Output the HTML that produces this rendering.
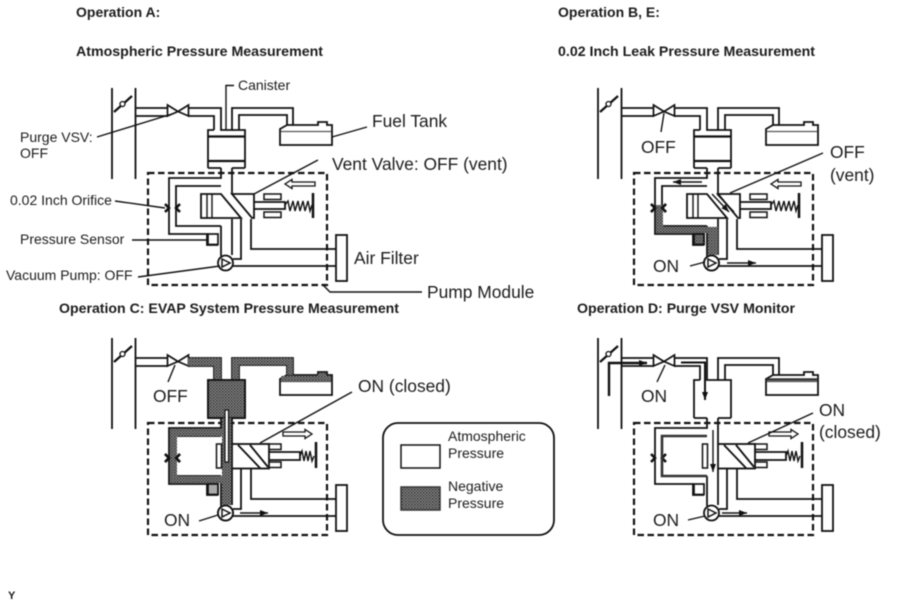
<!DOCTYPE html>
<html><head><meta charset="utf-8"><style>
html,body{margin:0;padding:0;background:#fff;width:909px;height:603px;overflow:hidden}
svg{display:block;filter:blur(.45px)}
text{font-family:"Liberation Sans",sans-serif;fill:#1c1c1c;stroke:none}
.h{font-weight:bold;font-size:14px}
.s{font-size:14px}
.l{font-size:17.4px}
.k{fill:none;stroke:#111;stroke-width:1.8}
.t{fill:none;stroke:#111;stroke-width:1.4}
</style></head><body>
<svg width="909" height="603" viewBox="0 0 909 603" xmlns="http://www.w3.org/2000/svg">
<defs>
<pattern id="n" width="3" height="3" patternUnits="userSpaceOnUse"><rect width="3" height="3" fill="#8a8a8a"/><rect width="1.5" height="1.5" fill="#333"/><rect x="1.5" y="1.5" width="1.5" height="1.5" fill="#444"/></pattern>
<marker id="a" markerWidth="9" markerHeight="8" refX="8" refY="4" orient="auto" markerUnits="userSpaceOnUse"><path d="M0,1 L8,4 L0,7Z" fill="#111"/></marker>
<g id="base">
<path class="k" d="M112,88V179M135.500,88V179"/>
<path d="M114,112L132,96" stroke="#111" stroke-width="2.200"/>
<circle cx="122.500" cy="104" r="2.500" fill="#fff" stroke="#111" stroke-width="1.300"/>
<path class="k" d="M135,108H168M135,116H168M188,108H221V130H232V108H293V125M188,116H214V130M239,130V115H287V125"/>
<path d="M280,145V129L287,125H318V122H327V125H332V145Z" fill="none" stroke="#111" stroke-width="1.800"/>
<path d="M281,131.500H331" stroke="#555" stroke-width="1.300"/>
<path d="M167.500,105L178,111.500L167.500,116Z M188.500,105L178,111.500L188.500,116Z" fill="#fff" stroke="#111" stroke-width="1.700"/>
<path class="k" d="M208,168V130H214M232,130H245V168M221,168H208M232,168H245"/>
<path d="M148,173H327V285H148Z" fill="none" stroke="#111" stroke-width="2.200" stroke-dasharray="6.500 3.500"/>
<rect x="336" y="235" width="11" height="46" fill="#fff" stroke="#111" stroke-width="1.800"/>
<path class="k" d="M251,219V249H336M233,266H336"/>
<path class="k" d="M221,168V178H169V234H207V245H218M221,186H176V226H221M232,168V194M232,219V255M241,219V259H233M221,226V256"/>
<rect x="208" y="234" width="10" height="10.500" fill="#fff" stroke="#111" stroke-width="1.700"/>
<path d="M165,204L169,208L165,212M180,204L176,208L180,212" fill="none" stroke="#111" stroke-width="2.600"/>
<circle cx="225.500" cy="263" r="7.500" fill="#fff" stroke="#111" stroke-width="1.800"/>
<path d="M222,259L230,263L222,267Z" fill="#fff" stroke="#111" stroke-width="1.500"/>
<rect x="264" y="194" width="17" height="5.500" fill="#fff" stroke="#111" stroke-width="1.500"/>
<rect x="264" y="212" width="17" height="5.500" fill="#fff" stroke="#111" stroke-width="1.500"/>
</g>
<g id="off">
<path d="M201,194H221L241,218H201Z" fill="#fff" stroke="#111" stroke-width="1.800"/>
<path class="t" d="M207,194V218M212,194V218"/>
<path d="M232,194H254V218H252Z" fill="#fff" stroke="#111" stroke-width="1.800"/>
<path class="k" d="M254,202H285V209H254"/>
<path class="t" d="M285,205L288,201L290,211L293,201L295,211L298,201L300,211L303,201L305,211L308,201L310,211L312,205"/>
<path d="M313,193V218" stroke="#111" stroke-width="2.500"/>
<path d="M315,182H292V179.500L285,184L292,188.500V186H315Z" fill="#fff" stroke="#111" stroke-width="1.300"/>
</g>
<g id="on">
<rect x="216.500" y="194" width="5" height="24" fill="#fff" stroke="#111" stroke-width="1.500"/>
<rect x="232" y="194" width="37" height="24.500" fill="#fff" stroke="#111" stroke-width="1.800"/>
<path class="k" d="M238,195L260,218M250,195L268,217"/>
<path class="k" d="M269,202H300V210H269"/>
<path class="t" d="M300,206L302,201L304,211L306,201L308,211L310,201L312,211L314,206"/>
<path d="M316,192V218" stroke="#111" stroke-width="2.500"/>
<path d="M283,182H305V179.500L312,184L305,188.500V186H283Z" fill="#fff" stroke="#111" stroke-width="1.300"/>
</g>
<g id="bar"><path d="M208,136.500H245M208,161H245" stroke="#111" stroke-width="2.200"/></g>
</defs>

<!-- A -->
<use href="#base"/><use href="#off"/><use href="#bar"/>
<path class="t" d="M226,130V85.500H234"/>
<path class="t" d="M97,137L172,114M115,201L165,208M132,240H208M138,277L220,266M254,194L318,160M332,137L367,127M323,285L330,292H422"/>

<!-- B -->
<g transform="translate(486,0)">
<use href="#base"/>
<path d="M170,205H177V226.900H232V255H222V233H170Z" fill="url(#n)"/>
<rect x="208" y="234" width="10" height="10.500" fill="url(#n)" stroke="#111" stroke-width="1.700"/>
<circle cx="225.500" cy="263" r="7.500" fill="#fff" stroke="#111" stroke-width="1.800"/>
<path d="M222,259L230,263L222,267Z" fill="#fff" stroke="#111" stroke-width="1.500"/>
<path d="M165,204L169,208L165,212M180,204L176,208L180,212" fill="none" stroke="#111" stroke-width="2.600"/>
<use href="#off"/><use href="#bar"/>
<path class="t" d="M216,182H187" marker-end="url(#a)"/>
<path class="t" d="M241,263H270" marker-end="url(#a)"/>
<path class="t" d="M226,194L243,212" marker-end="url(#a)"/>
<path class="t" d="M231,194L248,212"/>
<path class="t" d="M178,113L175,132M244,193L337,153M204,266L219,262"/>
</g>

<!-- C -->
<g transform="translate(0,250)">
<use href="#base"/>
<path d="M188,108H221V130H232V108H293V125H287V115H239V130H214V116H188Z" fill="url(#n)"/>
<path d="M281,131V126H318V123H326V126H331V131Z" fill="url(#n)"/>
<rect x="208" y="130" width="37" height="38" fill="url(#n)" stroke="#111" stroke-width="1.800"/>
<path d="M222,168H231V255H222Z" fill="url(#n)"/>
<path d="M170,179H222V186H177V226H222V233H170Z" fill="url(#n)"/>
<rect x="208" y="234" width="10" height="10.500" fill="#aaa" stroke="#111" stroke-width="1.700"/>
<path d="M225,160H228.500V212H225Z" fill="#fff" stroke="#111" stroke-width="1.200"/>
<circle cx="225.500" cy="263" r="7.500" fill="#fff" stroke="#111" stroke-width="1.800"/>
<path d="M222,259L230,263L222,267Z" fill="#fff" stroke="#111" stroke-width="1.500"/>
<path d="M165,204L169,208L165,212M180,204L176,208L180,212" fill="none" stroke="#111" stroke-width="2.600"/>
<use href="#on"/>
<path class="t" d="M240,263H268" marker-end="url(#a)"/>
<path class="t" d="M175,115L168,132M260,193L352,142M199,271L218,265"/>
</g>

<!-- D -->
<g transform="translate(486,250)">
<use href="#base"/><use href="#on"/>
<path d="M123,146V113H161" fill="none" stroke="#111" stroke-width="2.400" marker-end="url(#a)"/>
<path d="M195,112.500H219V150" fill="none" stroke="#111" stroke-width="2" marker-end="url(#a)"/>
<path d="M227,180V222" class="t" marker-end="url(#a)"/>
<path d="M221,186H176V226H221" fill="none" stroke="#333" stroke-width="2.600"/>
<path d="M281,129.500H331" stroke="#333" stroke-width="2.500"/>
<path class="t" d="M236,263H261" marker-end="url(#a)"/>
<path class="t" d="M179,115L171,132M262,193L327,163M202,270L219,266"/>
</g>

<!-- Legend -->
<rect x="383" y="423" width="171" height="112" rx="15" fill="#fff" stroke="#111" stroke-width="1.800"/>
<rect x="401" y="445" width="39" height="23" fill="#fff" stroke="#111" stroke-width="1.500"/>
<rect x="401" y="487" width="39" height="23" fill="url(#n)" stroke="#333" stroke-width="1.500"/>
<text class="s" x="448" y="441">Atmospheric</text>
<text class="s" x="448" y="458">Pressure</text>
<text class="s" x="448" y="491">Negative</text>
<text class="s" x="448" y="508">Pressure</text>

<!-- Headers -->
<text class="h" x="76" y="17">Operation A:</text>
<text class="h" x="76" y="56" textLength="247" lengthAdjust="spacingAndGlyphs">Atmospheric Pressure Measurement</text>
<text class="h" x="558" y="17">Operation B, E:</text>
<text class="h" x="558" y="56" textLength="257" lengthAdjust="spacingAndGlyphs">0.02 Inch Leak Pressure Measurement</text>
<text class="h" x="59" y="313" textLength="340" lengthAdjust="spacingAndGlyphs">Operation C: EVAP System Pressure Measurement</text>
<text class="h" x="577" y="313" textLength="218" lengthAdjust="spacingAndGlyphs">Operation D: Purge VSV Monitor</text>

<!-- A labels -->
<text class="s" x="238" y="90">Canister</text>
<text class="s" x="20" y="142">Purge VSV:</text>
<text class="s" x="20" y="158">OFF</text>
<text class="s" x="10" y="205">0.02 Inch Orifice</text>
<text class="s" x="20" y="244">Pressure Sensor</text>
<text class="s" x="6" y="280">Vacuum Pump: OFF</text>
<text class="l" x="372" y="127">Fuel Tank</text>
<text class="l" x="332" y="170">Vent Valve: OFF (vent)</text>
<text class="l" x="354" y="264">Air Filter</text>
<text class="l" x="427" y="298">Pump Module</text>

<!-- B labels -->
<text class="l" x="641" y="153">OFF</text>
<text class="l" x="830" y="158">OFF</text>
<text class="l" x="830" y="181">(vent)</text>
<text class="l" x="653" y="272">ON</text>

<!-- C labels -->
<text class="l" x="153" y="402">OFF</text>
<text class="l" x="358" y="392">ON (closed)</text>
<text class="l" x="164" y="526">ON</text>

<!-- D labels -->
<text class="l" x="641" y="402">ON</text>
<text class="l" x="819" y="416">ON</text>
<text class="l" x="819" y="438">(closed)</text>
<text class="l" x="653" y="526">ON</text>

<text x="8" y="599" style="font-size:11px;font-weight:bold">Y</text>
</svg>
</body></html>
